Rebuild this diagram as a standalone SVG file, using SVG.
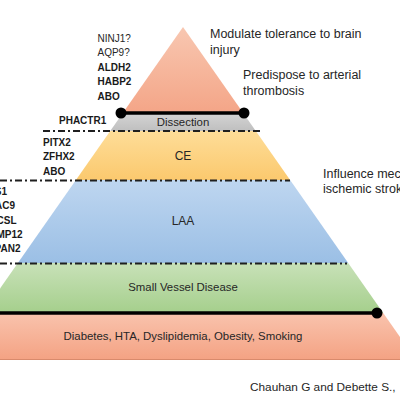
<svg xmlns="http://www.w3.org/2000/svg" width="400" height="400" viewBox="0 0 400 400">
<style>
text{font-family:"Liberation Sans",Arial,sans-serif;fill:#262626}
.lbl{font-size:11.4px;text-anchor:middle}
.big{font-size:12px}
.note{font-size:12.5px}
.gene{font-size:10px;font-weight:bold;fill:#1a1a1a}
.gn{font-size:10px;fill:#262626}
.sep{stroke:#1f1f1f;stroke-width:2;stroke-dasharray:7 3 2 3;fill:none}
.bar{stroke:#000;stroke-width:3.5}
</style>
<defs>
<clipPath id="pyr"><polygon points="183,27 416.1,360 -50.1,360"/></clipPath>
<linearGradient id="gTop" x1="0" y1="0" x2="0" y2="1"><stop offset="0" stop-color="#f8c7b1"/><stop offset="1" stop-color="#f4a587"/></linearGradient>
<linearGradient id="gGray" x1="0" y1="0" x2="0" y2="1"><stop offset="0" stop-color="#d4d4d4"/><stop offset="1" stop-color="#bfbfbf"/></linearGradient>
<linearGradient id="gCE" x1="0" y1="0" x2="0" y2="1"><stop offset="0" stop-color="#fedd98"/><stop offset="1" stop-color="#fbc96e"/></linearGradient>
<linearGradient id="gLAA" x1="0" y1="0" x2="0" y2="1"><stop offset="0" stop-color="#bed6f0"/><stop offset="1" stop-color="#9bbfe5"/></linearGradient>
<linearGradient id="gSVD" x1="0" y1="0" x2="0" y2="1"><stop offset="0" stop-color="#c8e1b8"/><stop offset="1" stop-color="#a5cf8c"/></linearGradient>
<linearGradient id="gRisk" x1="0" y1="0" x2="0" y2="1"><stop offset="0" stop-color="#f9c3ad"/><stop offset="1" stop-color="#f4a283"/></linearGradient>
</defs>
<g clip-path="url(#pyr)">
<g id="top"><rect x="-60" y="27" width="480" height="86" fill="url(#gTop)"/></g>
<g id="dissection"><rect x="-60" y="113" width="480" height="18" fill="url(#gGray)"/></g>
<g id="ce"><rect x="-60" y="131" width="480" height="49" fill="url(#gCE)"/></g>
<g id="laa"><rect x="-60" y="180" width="480" height="83" fill="url(#gLAA)"/></g>
<g id="svd"><rect x="-60" y="263" width="480" height="50" fill="url(#gSVD)"/></g>
<g id="risk"><rect x="-60" y="313" width="480" height="47" fill="url(#gRisk)"/><line x1="-60" y1="359.5" x2="420" y2="359.5" stroke="#d98a6c" stroke-width="1.2"/></g>
</g>
<g id="labels">
<text class="lbl" x="183" y="125.5">Dissection</text>
<text class="lbl big" x="183" y="159.5">CE</text>
<text class="lbl big" x="183" y="224.5">LAA</text>
<text class="lbl" x="183" y="290.5">Small Vessel Disease</text>
<text class="lbl" x="183" y="340">Diabetes, HTA, Dyslipidemia, Obesity, Smoking</text>
</g>
<g id="separators">
<line class="sep" x1="43" y1="131" x2="260" y2="131"/>
<line class="sep" x1="0" y1="180.5" x2="290" y2="180.5"/>
<line class="sep" x1="0" y1="263.5" x2="347" y2="263.5"/>
</g>
<g id="connectors">
<line class="bar" x1="121" y1="113" x2="244" y2="113"/>
<circle cx="121" cy="113" r="5.5" fill="#000"/>
<circle cx="244" cy="113" r="5.5" fill="#000"/>
<line class="bar" x1="0" y1="313" x2="377" y2="313"/>
<circle cx="377" cy="313" r="5.5" fill="#000"/>
</g>
<g id="genes-top">
<text class="gn" x="97.5" y="41.5">NINJ1?</text>
<text class="gn" x="97.5" y="56">AQP9?</text>
<text class="gene" x="97.5" y="70.5">ALDH2</text>
<text class="gene" x="97.5" y="85">HABP2</text>
<text class="gene" x="97.5" y="99.5">ABO</text>
</g>
<g id="genes-dissection"><text class="gene" x="59" y="124">PHACTR1</text></g>
<g id="genes-ce">
<text class="gene" x="43" y="145.5">PITX2</text>
<text class="gene" x="43" y="160">ZFHX2</text>
<text class="gene" x="43" y="174.5">ABO</text>
</g>
<g id="genes-laa">
<text class="gene" x="7" y="194.5" text-anchor="end">CDKN2B-AS1</text>
<text class="gene" x="15" y="209" text-anchor="end">HDAC9</text>
<text class="gene" x="16.5" y="223.5" text-anchor="end">CSL</text>
<text class="gene" x="22.5" y="238" text-anchor="end">MMP12</text>
<text class="gene" x="20.5" y="252" text-anchor="end">TSPAN2</text>
</g>
<g id="notes">
<text class="note" x="210" y="37.5">Modulate tolerance to brain</text>
<text class="note" x="210" y="54">injury</text>
<text class="note" x="243" y="78.5">Predispose to arterial</text>
<text class="note" x="243" y="95">thrombosis</text>
<text class="note" x="323" y="177.5">Influence mechanism of</text>
<text class="note" x="323" y="193">ischemic stroke</text>
<text class="note" x="250" y="391" style="font-size:11.8px">Chauhan G and Debette S.,</text>
</g>
</svg>
